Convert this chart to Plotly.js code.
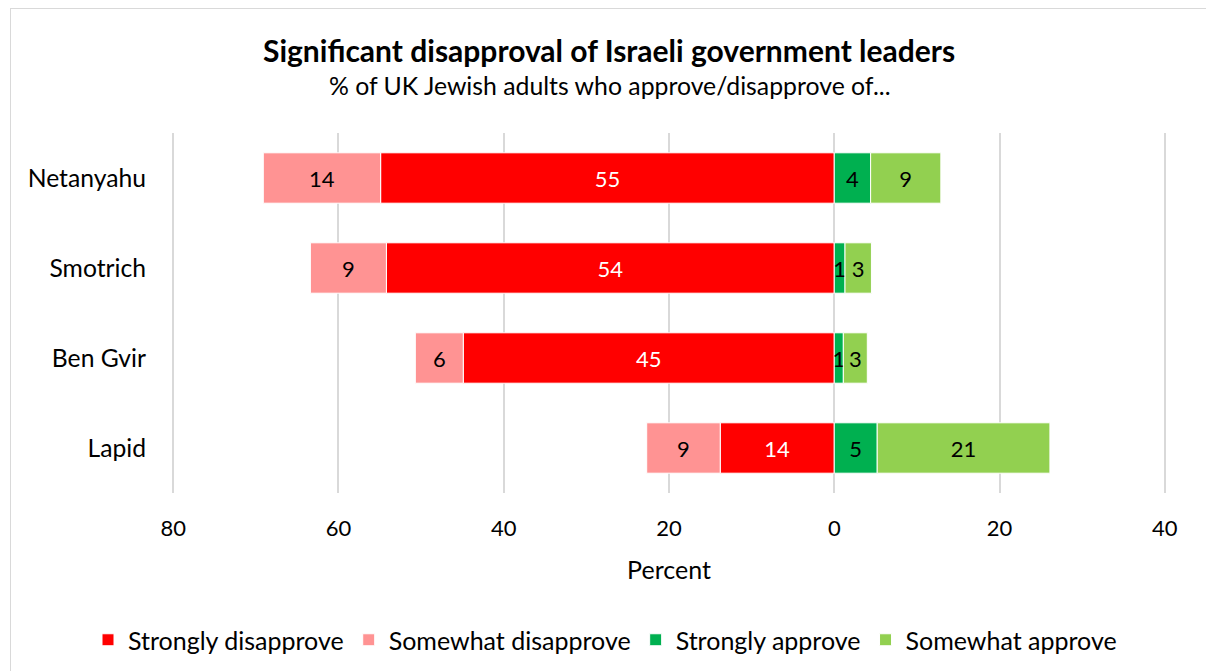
<!DOCTYPE html>
<html>
<head>
<meta charset="utf-8">
<script src="https://cdn.plot.ly/plotly-3.0.1.min.js"></script>
<style>
  html, body { margin: 0; padding: 0; background: #fff; }
  #wrap { position: relative; width: 1206px; height: 671px; }
  #chart { width: 1206px; height: 671px; }
  #frame { position: absolute; left: 10px; top: 8px; width: 1200px; height: 670px;
           border: 1.5px solid #d9d9d9; pointer-events: none; box-sizing: border-box; }
</style>
</head>
<body>
<div id="wrap">
  <div id="chart"></div>
  <div id="frame"></div>
</div>
<script>
// Leaders (top to bottom)
const leaders = ["Netanyahu", "Smotrich", "Ben Gvir", "Lapid"];

// Series values (percent)
const stronglyDisapprove = [54.9, 54.2, 44.9, 13.8];
const somewhatDisapprove = [14.2, 9.2, 5.8, 8.9];
const stronglyApprove    = [4.4, 1.3, 1.1, 5.2];
const somewhatApprove    = [8.5, 3.2, 2.9, 20.9];

// Data labels as printed on the chart
const stronglyDisapproveLabels = ["55", "54", "45", "14"];
const somewhatDisapproveLabels = ["14", "9", "6", "9"];
const stronglyApproveLabels    = ["4", "1", "1", "5"];
const somewhatApproveLabels    = ["9", "3", "3", "21"];

// Axis ticks
const tickValues = [-80, -60, -40, -20, 0, 20, 40];
const tickLabels = ["80", "60", "40", "20", "0", "20", "40"];

const FONT = "Lato, 'Open Sans', sans-serif";

function barTrace(name, vals, labels, color, negative, textColor) {
  return {
    type: "bar",
    orientation: "h",
    name: name,
    y: leaders,
    x: vals.map(v => negative ? -v : v),
    text: labels,
    textposition: "inside",
    insidetextanchor: "middle",
    constraintext: "none",
    textfont: { family: FONT, size: 22, color: textColor },
    marker: { color: color, line: { color: "#ffffff", width: 1 } },
    width: 0.56,
    hoverinfo: "skip",
    cliponaxis: false
  };
}

const data = [
  barTrace("Strongly disapprove", stronglyDisapprove, stronglyDisapproveLabels, "#FF0000", true, "#ffffff"),
  barTrace("Somewhat disapprove", somewhatDisapprove, somewhatDisapproveLabels, "#FF9393", true, "#000000"),
  barTrace("Strongly approve", stronglyApprove, stronglyApproveLabels, "#00B050", false, "#000000"),
  barTrace("Somewhat approve", somewhatApprove, somewhatApproveLabels, "#92D050", false, "#000000")
];

const layout = {
  width: 1206,
  height: 671,
  margin: { l: 172, r: 40, t: 133, b: 178, autoexpand: false },
  paper_bgcolor: "#ffffff",
  plot_bgcolor: "#ffffff",
  barmode: "relative",
  bargap: 0.44,
  font: { family: FONT, size: 22, color: "#000000" },
  uniformtext: { minsize: 22, mode: "show" },
  showlegend: true,
  legend: {
    orientation: "h",
    xref: "paper", yref: "paper",
    x: (88 - 172) / 994, xanchor: "left",
    y: (493 - 640) / 360, yanchor: "middle",
    font: { family: FONT, size: 25, color: "#000000" },
    itemwidth: 30,
    traceorder: "normal"
  },
  xaxis: {
    range: [-80.15, 40.15],
    tickvals: tickValues,
    ticktext: tickLabels,
    showgrid: true,
    gridcolor: "#d9d9d9",
    gridwidth: 2,
    zeroline: true,
    zerolinecolor: "#d9d9d9",
    zerolinewidth: 2,
    showline: false,
    ticks: "",
    ticklabelstandoff: 20,
    tickfont: { family: FONT, size: 22, color: "#000000" },
    title: { text: "Percent", font: { family: FONT, size: 25, color: "#000000" }, standoff: 21 },
    fixedrange: true
  },
  yaxis: {
    type: "category",
    categoryorder: "array",
    categoryarray: leaders,
    autorange: "reversed",
    showgrid: false,
    zeroline: false,
    showline: false,
    ticks: "",
    ticklabelstandoff: 25,
    tickfont: { family: FONT, size: 24.7, color: "#000000" },
    fixedrange: true
  },
  annotations: [
    {
      text: "<b>Significant disapproval of Israeli government leaders</b>",
      xref: "paper", yref: "paper",
      x: 0.4396, y: (493 - 50) / 360,
      xanchor: "center", yanchor: "middle",
      showarrow: false,
      font: { family: FONT, size: 30, color: "#000000" }
    },
    {
      text: "% of UK Jewish adults who approve/disapprove of...",
      xref: "paper", yref: "paper",
      x: 0.4406, y: (493 - 85) / 360,
      xanchor: "center", yanchor: "middle",
      showarrow: false,
      font: { family: FONT, size: 24.8, color: "#000000" }
    }
  ]
};

Plotly.newPlot("chart", data, layout, { displayModeBar: false, staticPlot: true });
</script>
</body>
</html>
